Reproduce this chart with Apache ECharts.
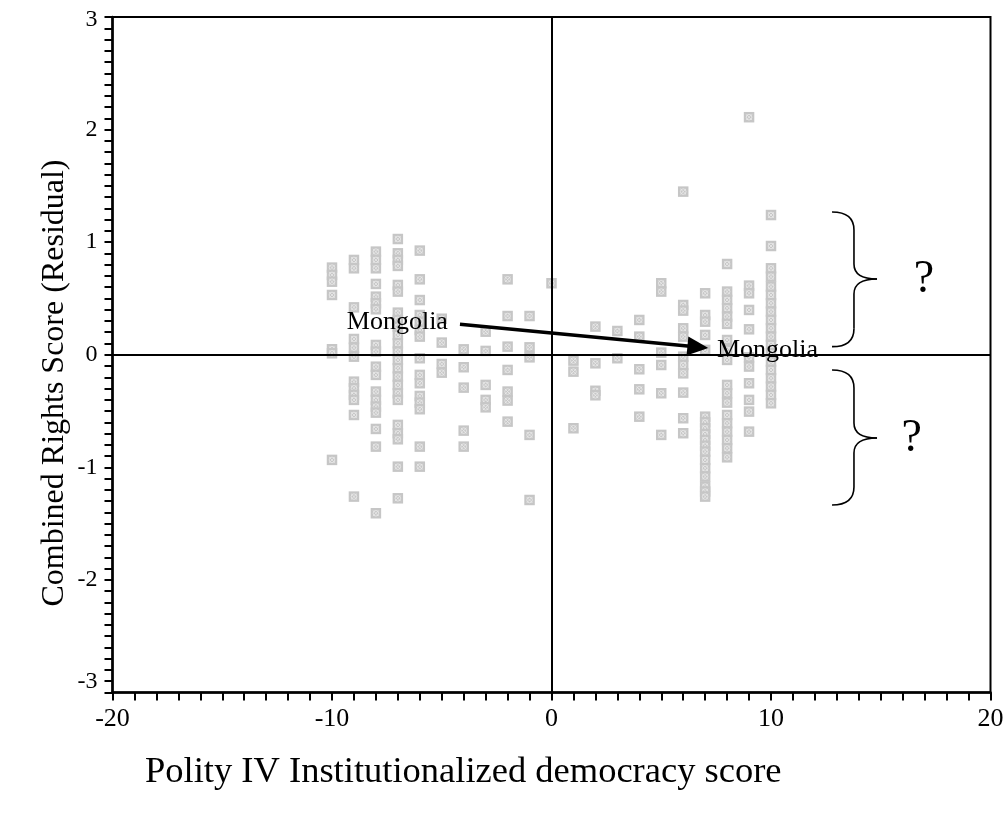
<!DOCTYPE html>
<html><head><meta charset="utf-8">
<script src="https://cdn.jsdelivr.net/npm/echarts@6/dist/echarts.min.js"></script>
<style>html,body{margin:0;padding:0;background:#fff}#c{width:1007px;height:819px}</style>
</head><body><div id="c"></div>
<script>
// ---- data ----
const democracyScores = [-10,-9,-8,-7,-6,-5,-4,-3,-2,-1,0,1,2,3,4,5,6,7,8,9,10];
const residuals = [
  [0.774, 0.709, 0.649, 0.531, 0.049, 0.013, -0.934],
  [0.842, 0.768, 0.421, 0.140, 0.063, -0.017, -0.239, -0.298, -0.357, -0.401, -0.535, -1.26],
  [0.916, 0.842, 0.768, 0.629, 0.516, 0.457, 0.404, 0.087, 0.028, -0.106, -0.179, -0.327, -0.401, -0.46, -0.514, -0.659, -0.816, -1.408],
  [1.028, 0.901, 0.842, 0.789, 0.620, 0.561, 0.374, 0.309, 0.250, 0.176, 0.102, 0.028, -0.046, -0.120, -0.194, -0.268, -0.342, -0.401, -0.623, -0.697, -0.751, -0.994, -1.275],
  [0.925, 0.670, 0.486, 0.353, 0.294, 0.220, 0.161, -0.031, -0.179, -0.253, -0.366, -0.425, -0.484, -0.816, -0.994],
  [0.32, 0.108, -0.082, -0.159],
  [0.048, -0.111, -0.292, -0.674, -0.816],
  [0.205, 0.034, -0.268, -0.401, -0.467],
  [0.670, 0.344, 0.072, -0.135, -0.327, -0.407, -0.594],
  [0.344, 0.066, -0.023, -0.712, -1.29],
  [0.635],
  [-0.052, -0.150, -0.653],
  [0.250, -0.076, -0.32, -0.36],
  [0.211, -0.031],
  [0.309, 0.161, -0.129, -0.307, -0.550],
  [0.635, 0.561, 0.019, -0.091, -0.342, -0.712],
  [1.449, 0.442, 0.392, 0.235, 0.161, -0.017, -0.091, -0.165, -0.336, -0.564, -0.697],
  [0.546, 0.353, 0.294, 0.176, 0.043, -0.550, -0.600, -0.653, -0.705, -0.757, -0.808, -0.860, -0.934, -1.008, -1.082, -1.171, -1.215, -1.260],
  [0.806, 0.561, 0.487, 0.413, 0.339, 0.274, 0.131, 0.043, -0.046, -0.268, -0.342, -0.425, -0.535, -0.609, -0.683, -0.757, -0.831, -0.911],
  [2.11, 0.614, 0.546, 0.398, 0.226, -0.023, -0.105, -0.253, -0.401, -0.505, -0.683],
  [1.241, 0.966, 0.768, 0.694, 0.605, 0.531, 0.457, 0.383, 0.309, 0.235, 0.161, 0.087, 0.013, -0.061, -0.135, -0.209, -0.283, -0.357, -0.431]
];
const xTickLabels = ['-20', '-10', '0', '10', '20'];
const yTickLabels = ['-3', '-2', '-1', '0', '1', '2', '3'];
const xTitle = 'Polity IV Institutionalized democracy score';
const yTitle = 'Combined Rights Score (Residual)';
// annotations: [x, y, text]
const mongoliaLabels = [[-4.72, 0.29, 'Mongolia'], [7.54, 0.04, 'Mongolia']];
const mongoliaArrow = [[-4.17, 0.27], [6.67, 0.069]];
const questionMarks = [[16.97, 0.664, '?'], [16.41, -0.748, '?']];
// braces: [xLeft, xSpine, xTip, yTop, yBottom, yTip]
const braces = [[12.78, 13.78, 14.83, 1.268, 0.072, 0.673], [12.78, 13.78, 14.83, -0.135, -1.334, -0.739]];

const points = [];
democracyScores.forEach((x, i) => residuals[i].forEach(y => points.push([x, y])));

const serif = 'Liberation Serif';
const chart = echarts.init(document.getElementById('c'), null, {renderer: 'canvas'});

function axisCommon() {
  return {
    type: 'value',
    axisLine: {show: true, onZero: false, lineStyle: {color: '#000', width: 2.5}},
    axisTick: {show: true, inside: false, length: 8, lineStyle: {color: '#000', width: 2}},
    minorTick: {show: true, splitNumber: 10, length: 8, lineStyle: {color: '#000', width: 2}},
    splitLine: {show: false},
    minorSplitLine: {show: false}
  };
}

chart.setOption({
  animation: false,
  backgroundColor: '#fff',
  title: {
    text: xTitle, left: 145, top: 754, padding: 0,
    textStyle: {fontFamily: serif, fontSize: 36.5, fontWeight: 'normal', color: '#000'}
  },
  graphic: [{
    type: 'text', x: 55, y: 383, rotation: Math.PI / 2,
    style: {text: yTitle, fontFamily: serif, fontSize: 32, fill: '#000', align: 'center', verticalAlign: 'middle'}
  }],
  grid: {left: 112.5, right: 16.5, top: 17, bottom: 126.5, show: true, borderColor: '#000', borderWidth: 2, outerBoundsMode: 'none'},
  xAxis: Object.assign(axisCommon(), {
    min: -20, max: 20, interval: 10,
    axisLabel: {color: '#000', fontFamily: serif, fontSize: 26, margin: 14,
      formatter: v => xTickLabels[Math.round((v + 20) / 10)]}
  }),
  yAxis: Object.assign(axisCommon(), {
    min: -3, max: 3, interval: 1,
    axisLabel: {color: '#000', fontFamily: serif, fontSize: 24, margin: 15,
      formatter: v => {
        const t = yTickLabels[Math.round(v + 3)];
        if (v === -3) return '{lo|' + t + '}';
        if (v === 3) return '{hi|' + t + '}';
        return t;
      },
      rich: {
        lo: {color: '#000', fontFamily: serif, fontSize: 24, padding: [0, 0, 22, 0]},
        hi: {color: '#000', fontFamily: serif, fontSize: 24, padding: [6, 0, 0, 0]}
      }}
  }),
  series: [
    {
      type: 'custom',
      data: points,
      encode: {x: 0, y: 1},
      renderItem: (params, api) => {
        const p = api.coord([api.value(0), api.value(1)]);
        const s = 10.5, c = '#ececec';
        return {type: 'group', children: [
          {type: 'rect', shape: {x: p[0] - s / 2, y: p[1] - s / 2, width: s, height: s}, style: {fill: '#c6c6c6'}},
          {type: 'circle', shape: {cx: p[0], cy: p[1], r: 2.8}, style: {fill: null, stroke: c, lineWidth: 0.8}},
          {type: 'line', shape: {x1: p[0] - 2.8, y1: p[1] - 2.8, x2: p[0] + 2.8, y2: p[1] + 2.8}, style: {stroke: c, lineWidth: 0.8}},
          {type: 'line', shape: {x1: p[0] - 2.8, y1: p[1] + 2.8, x2: p[0] + 2.8, y2: p[1] - 2.8}, style: {stroke: c, lineWidth: 0.8}}
        ]};
      },
      z: 2
    },
    {
      type: 'scatter',
      symbolSize: 0,
      itemStyle: {opacity: 1},
      data: mongoliaLabels.map((d, i) => ({
        value: d,
        label: {show: true, position: i === 0 ? 'left' : 'right', distance: 0,
          formatter: p => p.value[2], color: '#000', fontFamily: serif, fontSize: 26}
      })),
      z: 5,
      markLine: {
        silent: true,
        animation: false,
        symbol: ['none', 'none'],
        label: {show: false},
        emphasis: {disabled: true},
        data: [
          [{coord: mongoliaArrow[0], symbol: 'none', lineStyle: {width: 3.5, color: '#000', type: 'solid'}},
           {coord: mongoliaArrow[1], symbol: 'triangle', symbolSize: [19, 21]}],
          {xAxis: 0, lineStyle: {width: 2, color: '#000', type: 'solid'}},
          {yAxis: 0, lineStyle: {width: 2, color: '#000', type: 'solid'}}
        ]
      }
    },
    {
      type: 'scatter',
      symbolSize: 0,
      itemStyle: {opacity: 1},
      data: questionMarks,
      label: {show: true, position: 'inside', formatter: p => p.value[2], color: '#000', fontFamily: serif, fontSize: 46},
      z: 5
    },
    {
      type: 'custom',
      data: braces,
      encode: {x: [0, 1, 2], y: [3, 4, 5]},
      renderItem: (params, api) => {
        const L = api.coord([api.value(0), 0])[0];
        const M = api.coord([api.value(1), 0])[0];
        const T = api.coord([api.value(2), 0])[0];
        const Y1 = api.coord([0, api.value(3)])[1];
        const Y2 = api.coord([0, api.value(4)])[1];
        const Ym = api.coord([0, api.value(5)])[1];
        const r = 18, r2 = 15;
        const st = {stroke: '#000', lineWidth: 1.6, fill: null};
        return {type: 'group', children: [
          {type: 'bezierCurve', shape: {x1: L, y1: Y1, cpx1: M, cpy1: Y1, x2: M, y2: Y1 + r}, style: st},
          {type: 'line', shape: {x1: M, y1: Y1 + r, x2: M, y2: Ym - r2}, style: st},
          {type: 'bezierCurve', shape: {x1: M, y1: Ym - r2, cpx1: M, cpy1: Ym, x2: T, y2: Ym}, style: st},
          {type: 'bezierCurve', shape: {x1: T, y1: Ym, cpx1: M, cpy1: Ym, x2: M, y2: Ym + r2}, style: st},
          {type: 'line', shape: {x1: M, y1: Ym + r2, x2: M, y2: Y2 - r}, style: st},
          {type: 'bezierCurve', shape: {x1: M, y1: Y2 - r, cpx1: M, cpy1: Y2, x2: L, y2: Y2}, style: st}
        ]};
      },
      z: 4
    }
  ]
});
</script>
</body></html>
